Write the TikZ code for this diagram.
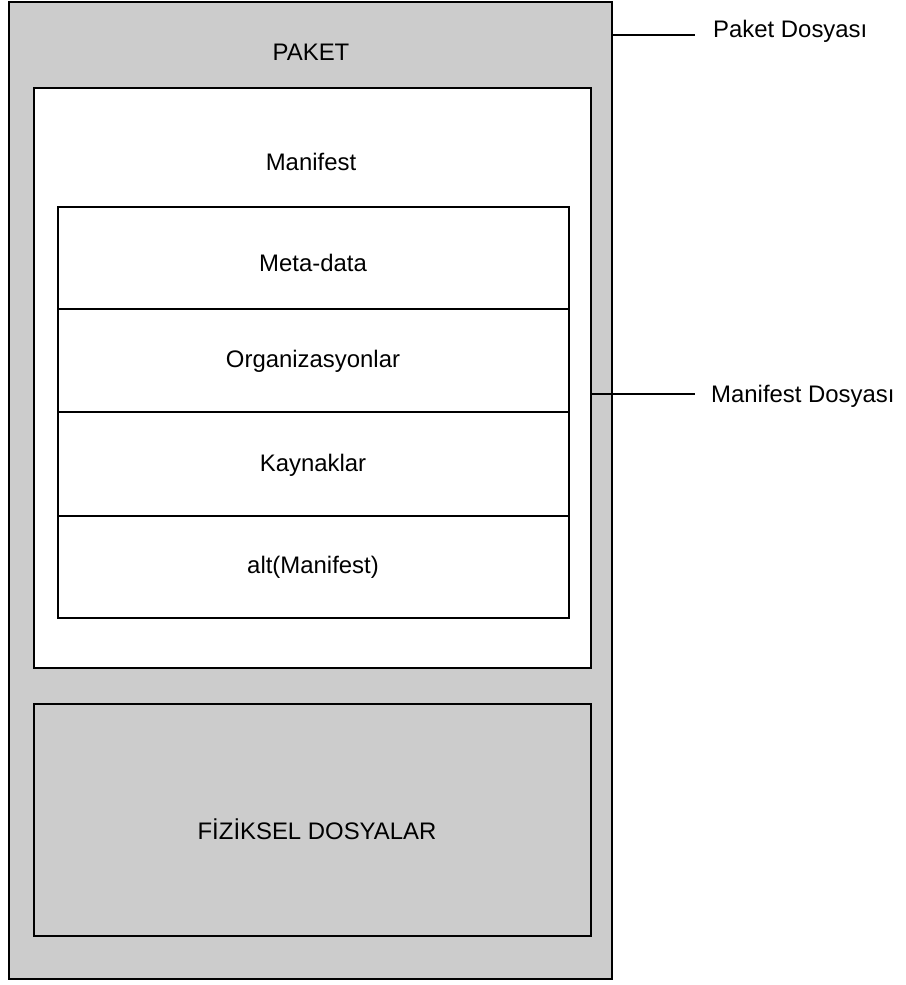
\documentclass[tikz,border=0pt]{standalone}
\usepackage{fontspec}
\setmainfont{Liberation Sans}
\definecolor{boxgray}{HTML}{CCCCCC}
\begin{document}
\begin{tikzpicture}[x=1bp,y=-1bp,
  every node/.style={font=\fontsize{24}{28}\selectfont},
  frame/.style={draw=black,line width=1.6bp},
  lbl/.style={inner sep=0pt,anchor=center},
  side/.style={inner sep=0pt,anchor=west},
  leader/.style={draw=black,line width=1.1bp}]
\useasboundingbox (0,0) rectangle (906,985);
% package, manifest and physical-file boxes
\path[frame,fill=boxgray] (9,2) rectangle (612,979);
\path[frame,fill=white] (34,88) rectangle (591,668);
\path[frame,fill=white] (58,207) rectangle (569,618);
\draw[frame] (58,309) -- (569,309);
\draw[frame] (58,412) -- (569,412);
\draw[frame] (58,516) -- (569,516);
\path[frame,fill=boxgray] (34,704) rectangle (591,936);
% box captions
\node[lbl] (paket) at (311,52) {PAKET};
\node[lbl] (manifest) at (311,162) {Manifest};
\node[lbl] (meta) at (313,263) {Meta-data};
\node[lbl] (org) at (313,361) {Organizasyonlar};
\node[lbl] (kay) at (313,465) {Kaynaklar};
\node[lbl] (alt) at (313,567) {alt(Manifest)};
\node[lbl] (fiz) at (317,829) {FİZİKSEL DOSYALAR};
% side labels and their leader lines
\node[side] (pkdos) at (713,31) {Paket Dosyası};
\node[side] (mfdos) at (711,396) {Manifest Dosyası};
\coordinate (pkstart) at (612,35);
\coordinate (pkend) at (695,35);
\coordinate (mfstart) at (591,394);
\coordinate (mfend) at (695,394);
\draw[leader] (pkstart) -- (pkend);
\draw[leader] (mfstart) -- (mfend);
\end{tikzpicture}
\end{document}
